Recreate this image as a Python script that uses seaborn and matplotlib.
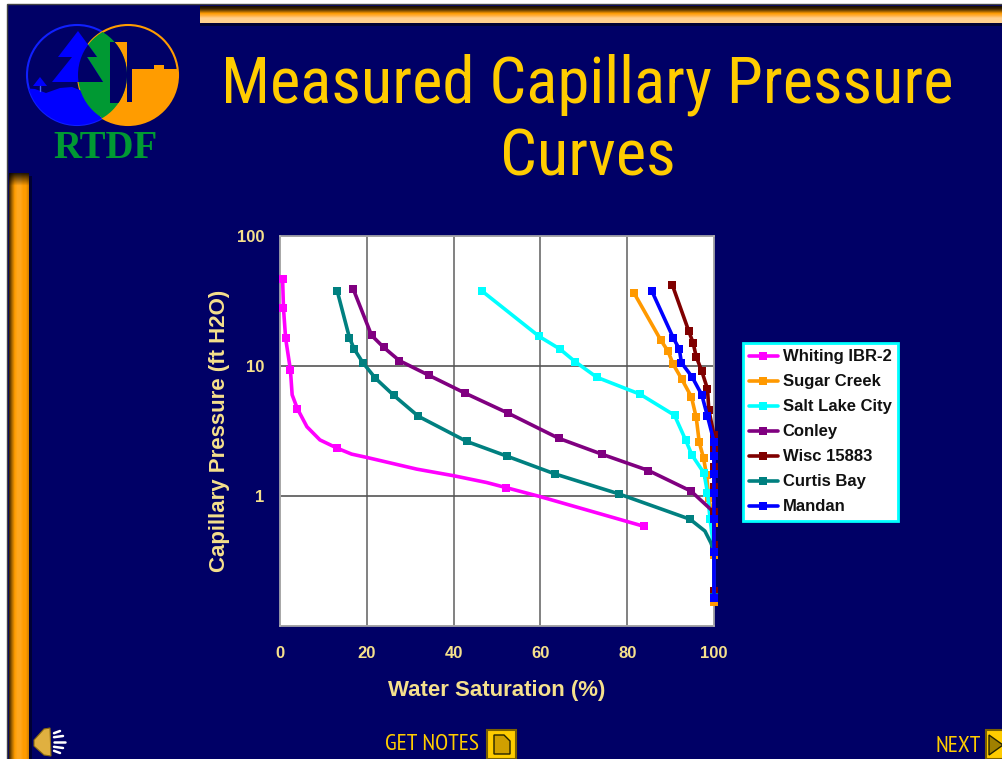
import numpy as np
import pandas as pd
import seaborn as sns
import matplotlib
matplotlib.use("Agg")
import matplotlib.pyplot as plt
from matplotlib.patches import Circle, Polygon, Rectangle
from matplotlib.lines import Line2D
from matplotlib.ticker import NullLocator
from matplotlib.colors import LinearSegmentedColormap

# ---------- data ----------
whiting_x = [0.6, 0.8, 1.3, 2.4, 2.8, 4.0, 6.2, 9.2, 13.2, 16.5, 20.0, 31.5, 40.1, 47.6, 52.1, 59.9, 83.8]
whiting_y = [46.7, 27.8, 16.3, 9.32, 6.0, 4.70, 3.41, 2.70, 2.33, 2.10, 1.98, 1.61, 1.43, 1.27, 1.16, 0.99, 0.585]
whiting_marked = [0, 1, 2, 3, 5, 8, 14, 16]

sugar_x = [81.6, 87.7, 89.4, 90.6, 92.6, 94.8, 95.9, 96.6, 97.6, 98.3, 98.8, 100, 100, 100]
sugar_y = [36.3, 15.9, 13.0, 10.3, 7.90, 5.78, 4.03, 2.59, 1.95, 1.44, 0.96, 0.62, 0.352, 0.154]

salt_x = [46.6, 59.7, 64.5, 68.0, 73.0, 83.0, 90.9, 93.5, 94.9, 97.7, 98.5, 99.1, 100, 100]
salt_y = [37.6, 16.9, 13.5, 10.8, 8.19, 6.06, 4.18, 2.68, 2.07, 1.50, 1.06, 0.662, 0.377, 0.167]

conley_x = [16.9, 21.1, 23.9, 27.5, 34.3, 42.7, 52.6, 64.2, 74.1, 84.9, 94.7, 100, 100, 100]
conley_y = [38.9, 17.2, 13.9, 11.0, 8.48, 6.17, 4.33, 2.78, 2.10, 1.57, 1.09, 0.749, 0.42, 0.186]

wisc_x = [90.4, 94.2, 95.2, 95.9, 97.2, 98.5, 98.8, 100, 100, 100, 100, 100, 100, 100]
wisc_y = [42.0, 18.5, 15.0, 11.8, 9.10, 6.65, 4.61, 2.94, 2.29, 1.67, 1.17, 0.749, 0.42, 0.186]

curtis_x = [13.2, 16.0, 17.1, 19.1, 22.0, 26.2, 31.9, 43.0, 52.2, 63.3, 78.0, 94.5, 97.9, 99.3, 100, 100]
curtis_y = [37.6, 16.5, 13.5, 10.6, 8.04, 5.95, 4.10, 2.63, 2.03, 1.48, 1.04, 0.662, 0.538, 0.435, 0.371, 0.167]
curtis_marked = [0, 1, 2, 3, 4, 5, 6, 7, 8, 9, 10, 11, 14, 15]

mandan_x = [85.7, 90.6, 92.0, 92.5, 95.0, 97.2, 98.5, 100, 100, 100, 100, 100, 100, 100]
mandan_y = [37.6, 16.5, 13.5, 10.6, 8.19, 5.98, 4.10, 2.62, 2.02, 1.48, 1.05, 0.662, 0.373, 0.165]

x_ticks = [0, 20, 40, 60, 80, 100]
y_ticks = [0.1, 1, 10, 100]
y_tick_labels = ["", "1", "10", "100"]
title_lines = ["Measured Capillary Pressure", "Curves"]

series = [
    ("Whiting IBR-2", whiting_x, whiting_y, "#ff00ff", whiting_marked),
    ("Sugar Creek", sugar_x, sugar_y, "#ff9900", None),
    ("Salt Lake City", salt_x, salt_y, "#00ffff", None),
    ("Conley", conley_x, conley_y, "#800080", None),
    ("Wisc 15883", wisc_x, wisc_y, "#800000", None),
    ("Curtis Bay", curtis_x, curtis_y, "#008080", curtis_marked),
    ("Mandan", mandan_x, mandan_y, "#0000ff", None),
]

# ---------- style ----------
NAVY = "#000066"
YEL = "#ffcc00"
PALE = "#f5e08c"
sns.set_theme(style="white")
narrow = ["PT Sans Narrow", "Archivo Narrow", "Liberation Sans"]
title_font = ["Roboto Condensed", "Archivo Narrow", "PT Sans Narrow", "Liberation Sans"]
plt.rcParams["font.family"] = ["Liberation Sans", "DejaVu Sans"]

W, H = 1003, 759
fig = plt.figure(figsize=(W / 100, H / 100), dpi=100, facecolor="white")

# ---------- slide decoration, in pixel coordinates ----------
bg = fig.add_axes([0, 0, 1, 1], zorder=0)
bg.set_xlim(0, W)
bg.set_ylim(H, 0)
bg.axis("off")
bg.add_patch(Rectangle((7, 4), W, H, fc=NAVY, ec="#444444", lw=1))

top_cm = LinearSegmentedColormap.from_list("top", ["#1a0e00", "#3a2200", "#8a5500", "#ff9c00", "#ffb040", "#ffd08f", "#ffd08f", "#ffd08f"])
left_cm = LinearSegmentedColormap.from_list("left", ["#3a2200", "#a86800", "#ff9c00", "#ffa820", "#ffa820", "#ff9c00", "#ff9c00", "#d08000"])
grad = np.linspace(0, 1, 64)
bg.add_patch(Rectangle((200, 23), W, 3, fc="#000033", ec="none", zorder=1))
bg.imshow(grad[:, None], extent=(200, W, 23, 6), cmap=top_cm, aspect="auto", zorder=1)
bg.imshow(grad[None, :], extent=(9, 29, H, 173), cmap=left_cm, aspect="auto", zorder=1)
bg.add_patch(Rectangle((29, 176), 3, H, fc="#000033", ec="none", zorder=1))
fade = np.zeros((16, 1, 4))
fade[:, :, 3] = np.linspace(0.85, 0, 16)[:, None]
bg.imshow(fade, extent=(9, 29, 186, 173), aspect="auto", zorder=1.5)
bg.set_xlim(0, W)
bg.set_ylim(H, 0)

# logo
cb = (77, 75)
co = (128, 75)
R = 50
bg.add_patch(Circle(cb, R, fc=NAVY, ec="#1020ff", lw=1.5, zorder=2))
bg.add_patch(Circle(co, R, fc=NAVY, ec="#ff9c00", lw=1.5, zorder=2))
water = Polygon([(20, 88), (35, 89), (46, 93), (60, 88), (72, 87), (85, 92), (110, 92), (110, 130), (20, 130)],
                fc="#0000ff", ec="none", zorder=3)
bg.add_patch(water)
water.set_clip_path(Circle(cb, R, transform=bg.transData))
ground = Polygon([(132, 69), (154, 69), (154, 65), (164, 65), (164, 69), (185, 69), (185, 130), (100, 130), (100, 102), (132, 102)],
                 fc="#ff9c00", ec="none", zorder=3)
bg.add_patch(ground)
ground.set_clip_path(Circle(co, R, transform=bg.transData))
bg.add_patch(Rectangle((110, 42), 17, 60, fc="#ff9c00", ec="none", zorder=3))
lens = Circle(co, R, fc="#009933", ec="none", zorder=4)
bg.add_patch(lens)
lens.set_clip_path(Circle(cb, R, transform=bg.transData))
gap = Rectangle((110, 42), 20, 61, fc=NAVY, ec="none", zorder=5)
bg.add_patch(gap)
gap.set_clip_path(Circle(cb, R, transform=bg.transData))
tree_pts = [(78, 31), (58, 57), (72, 57), (52, 82), (103, 82), (87, 57), (97, 57)]
bg.add_patch(Polygon(tree_pts, fc="#0000ff", ec="none", zorder=6))
tree_dark = Polygon(tree_pts, fc=NAVY, ec="none", zorder=7)
bg.add_patch(tree_dark)
tree_dark.set_clip_path(Circle(co, R, transform=bg.transData))
bg.add_patch(Polygon([(33, 86), (40, 77), (47, 86)], fc="#0000ff", ec="none", zorder=6))
bg.plot([40, 40], [86, 91], color="#4060ff", lw=1, zorder=6)
bg.text(105.5, 158, "RTDF", color="#009933", family="Liberation Serif", fontweight="bold",
        fontsize=28, ha="center", va="baseline", zorder=6)

# title and footer
bg.text(587.5, 103, title_lines[0], color=YEL, family=title_font, fontsize=46.7, ha="center", va="baseline", zorder=6)
bg.text(587.5, 176, title_lines[1], color=YEL, family=title_font, fontsize=46.7, ha="center", va="baseline", zorder=6)
bg.text(432.5, 745, "GET NOTES", color=YEL, family=narrow, fontsize=17, ha="center", va="center", zorder=6)
bg.text(958, 747, "NEXT", color=YEL, family=narrow, fontsize=17, ha="center", va="center", zorder=6)
bg.add_patch(Rectangle((487, 730), 29, 29, fc=YEL, ec="#7a6000", lw=1.5, zorder=6))
bg.add_patch(Polygon([(494, 735), (504, 735), (510, 741), (510, 754), (494, 754)], fc="#d0a000", ec="#222200", lw=1, zorder=7))
bg.add_patch(Rectangle((986, 730), 20, 29, fc=YEL, ec="#7a6000", lw=1.5, zorder=6))
bg.add_patch(Polygon([(989, 735), (1003, 745), (989, 755)], fc="#a08000", ec="#222200", lw=1, zorder=7))
# speaker
bg.add_patch(Polygon([(34, 740), (44, 729), (50, 728), (51, 756), (44, 755), (34, 746)], fc="#e0b040", ec="#8a6a10", lw=0.8, zorder=6))
for yy, xx in zip([731, 736, 742, 748, 753], [60, 63, 65, 63, 60]):
    bg.plot([54, xx], [742 + (yy - 742) * 0.8, yy], color="white", lw=1.8, zorder=6)

# ---------- chart ----------
ax = fig.add_axes([280 / W, 1 - 626 / H, 434 / W, 390 / H], zorder=2, facecolor="white")
handles = []
for name, xs, ys, col, marked in series:
    df = pd.DataFrame({"Water Saturation (%)": xs, "Capillary Pressure": ys})
    sns.lineplot(data=df, x="Water Saturation (%)", y="Capillary Pressure", ax=ax, sort=False,
                 estimator=None, color=col, lw=2.6, marker="s", ms=6.4, mec=col, mew=0,
                 markevery=marked, clip_on=False, zorder=3, legend=False)
    handles.append(Line2D([], [], color=col, lw=2.6, marker="s", ms=6.2, mew=0, label=name))

ax.set_yscale("log")
ax.set_xlim(0, 100)
ax.set_ylim(0.1, 100)
ax.set_xticks(x_ticks)
ax.set_yticks(y_ticks)
ax.set_yticklabels(y_tick_labels)
ax.xaxis.set_minor_locator(NullLocator())
ax.yaxis.set_minor_locator(NullLocator())
ax.grid(True, axis="x", color="#777777", lw=1.3, zorder=1)
ax.grid(True, axis="y", color="#555555", lw=1.2, zorder=1)
ax.set_axisbelow(True)
for s in ax.spines.values():
    s.set_color("#b0b0b0")
    s.set_linewidth(1.2)
ax.tick_params(axis="both", length=5, width=1.2, color="#b0b0b0", labelcolor=PALE, labelsize=12, pad=6)
ax.tick_params(axis="x", pad=9.5)
for t in ax.get_xticklabels() + ax.get_yticklabels():
    t.set_fontweight("bold")
ax.set_xlabel("Water Saturation (%)", color=PALE, fontsize=16, fontweight="bold", labelpad=13.5)
ax.set_ylabel("Capillary Pressure (ft H2O)", color=PALE, fontsize=16, fontweight="bold", labelpad=5.5)

leg = ax.legend(handles=handles, loc="upper left", bbox_to_anchor=(743 / W, 1 - 343 / H), bbox_transform=fig.transFigure,
                frameon=True, fancybox=False, facecolor="white", edgecolor="#00ffff", framealpha=1,
                prop={"family": "Liberation Sans", "weight": "bold", "size": 12},
                labelspacing=0.6, handlelength=1.7, handletextpad=0.3, borderpad=0.38, borderaxespad=0)
leg.get_frame().set_linewidth(2)
for t in leg.get_texts():
    t.set_color("#111111")

fig.savefig("out.png", dpi=100)
